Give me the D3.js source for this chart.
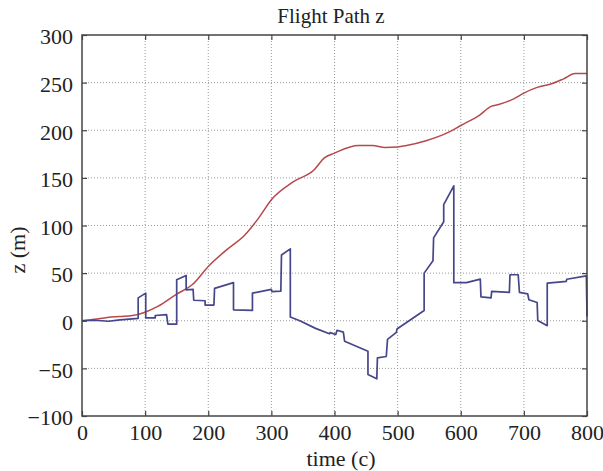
<!DOCTYPE html>
<html>
<head>
<meta charset="utf-8">
<script src="https://cdn.jsdelivr.net/npm/d3@7"></script>
<style>
  html, body { margin: 0; padding: 0; background: #fff; }
  svg { display: block; }
  text { font-family: "Liberation Serif", "Times New Roman", serif; fill: #222; }
</style>
</head>
<body>
<svg id="chart" width="603" height="471"></svg>
<script>
// Reference path (smooth climb)
const refTime = [0, 20, 40, 60, 80, 100, 120, 150, 175, 200, 230, 258, 280, 300, 335, 367, 384, 400, 438, 460, 480, 500, 514, 545, 581, 600, 630, 648, 660, 684, 700, 721, 745, 763, 781, 800];
const refZ    = [0, 1.5, 3.5, 4.5, 5.5, 9, 15, 28, 38, 57, 75, 90, 108, 127, 146, 158, 171, 176, 184, 184, 182, 182.5, 184, 189, 198, 205, 216, 225, 227, 233, 239, 245, 249, 254, 259.5, 259.5];

// Estimated path (stepwise)
const estTime = [0, 20, 42, 60, 89, 89, 101, 101, 116, 116, 134, 136, 150, 150, 165, 165, 176, 177, 195, 195, 209, 210, 240, 240, 270, 270, 300, 301, 315, 316, 330, 330, 345, 370, 392, 393, 402, 404, 414, 416, 453, 453, 467, 468, 482, 484, 498, 499, 542, 542, 556, 557, 573, 573, 589, 589, 609, 631, 632, 648, 649, 677, 678, 691, 693, 706, 708, 721, 722, 737, 737, 755, 767, 768, 799, 800];
const estZ    = [0, 0.5, -0.5, 1, 2.5, 24, 29, 3, 3, 5.5, 6.5, -3.5, -3.5, 43, 47.5, 32.5, 33, 21.5, 21, 16.5, 16.5, 34, 40, 11.5, 10.8, 29, 33, 30.5, 31, 69, 75.5, 4, 0, -8, -13.7, -12.5, -14.5, -10, -12, -21.5, -32, -56.5, -61, -39, -37.5, -19.5, -12.2, -8.7, 10.8, 50, 63, 87, 104, 122, 141.7, 40, 40, 43.7, 25, 24, 30.8, 29.7, 48.3, 48.3, 29.7, 28.3, 22, 19.2, 0.3, -5.2, 39.5, 40.5, 41.3, 43.6, 47.2, 4.5];

const xTicks = [0, 100, 200, 300, 400, 500, 600, 700, 800];
const yTicks = [-100, -50, 0, 50, 100, 150, 200, 250, 300];

const titleText = "Flight Path z";
const xLabel = "time (c)";
const yLabel = "z (m)";

const svg = d3.select("#chart");
const plot = { left: 82, right: 587, top: 35, bottom: 416 };

const x = d3.scaleLinear().domain([0, 800]).range([plot.left, plot.right]);
const y = d3.scaleLinear().domain([-100, 300]).range([plot.bottom, plot.top]);

// dotted grid
const grid = svg.append("g").attr("stroke", "#9a9a9a").attr("stroke-width", 1)
  .attr("stroke-dasharray", "1,2");
xTicks.slice(1, -1).forEach(t => {
  grid.append("line").attr("x1", x(t)).attr("x2", x(t)).attr("y1", plot.top).attr("y2", plot.bottom);
});
yTicks.slice(1, -1).forEach(t => {
  grid.append("line").attr("x1", plot.left).attr("x2", plot.right).attr("y1", y(t)).attr("y2", y(t));
});

// lines
const lineOf = (ts, vs, curve) => d3.line().curve(curve).x((d, i) => x(ts[i])).y(d => y(d))(vs);

svg.append("path").attr("d", lineOf(refTime, refZ, d3.curveMonotoneX))
  .attr("fill", "none").attr("stroke", "#b5494b").attr("stroke-width", 1.5);
svg.append("path").attr("d", lineOf(estTime, estZ, d3.curveLinear))
  .attr("fill", "none").attr("stroke", "#46468a").attr("stroke-width", 1.7)
  .attr("stroke-linejoin", "round");

// axes with inward ticks, mirrored on all sides
const tickLen = 5;
const axB = svg.append("g").attr("transform", `translate(0,${plot.bottom})`)
  .call(d3.axisBottom(x).tickValues(xTicks).tickSize(-tickLen).tickPadding(9));
const axT = svg.append("g").attr("transform", `translate(0,${plot.top})`)
  .call(d3.axisTop(x).tickValues(xTicks).tickSize(-tickLen).tickFormat(""));
const axL = svg.append("g").attr("transform", `translate(${plot.left},0)`)
  .call(d3.axisLeft(y).tickValues(yTicks).tickSize(-tickLen).tickPadding(9));
const axR = svg.append("g").attr("transform", `translate(${plot.right},0)`)
  .call(d3.axisRight(y).tickValues(yTicks).tickSize(-tickLen).tickFormat(""));

[axB, axT, axL, axR].forEach(g => {
  g.select(".domain").remove();
  g.selectAll(".tick line").attr("stroke", "#444").attr("stroke-width", 1.2);
  g.selectAll("text").attr("font-size", 22).attr("fill", "#222")
    .style("font-family", "'Liberation Serif', 'Times New Roman', serif");
});
axL.selectAll("text").attr("dy", "0.4em");
axB.selectAll("text").attr("dy", "0.68em");

// frame
svg.append("rect").attr("x", plot.left).attr("y", plot.top)
  .attr("width", plot.right - plot.left).attr("height", plot.bottom - plot.top)
  .attr("fill", "none").attr("stroke", "#444").attr("stroke-width", 1.5);

// labels
svg.append("text").attr("x", 331).attr("y", 23)
  .attr("text-anchor", "middle").attr("font-size", 21).text(titleText);
svg.append("text").attr("x", 341).attr("y", 466)
  .attr("text-anchor", "middle").attr("font-size", 22).text(xLabel);
svg.append("text").attr("transform", `translate(25,250) rotate(-90)`)
  .attr("text-anchor", "middle").attr("font-size", 22).text(yLabel);
</script>
</body>
</html>
